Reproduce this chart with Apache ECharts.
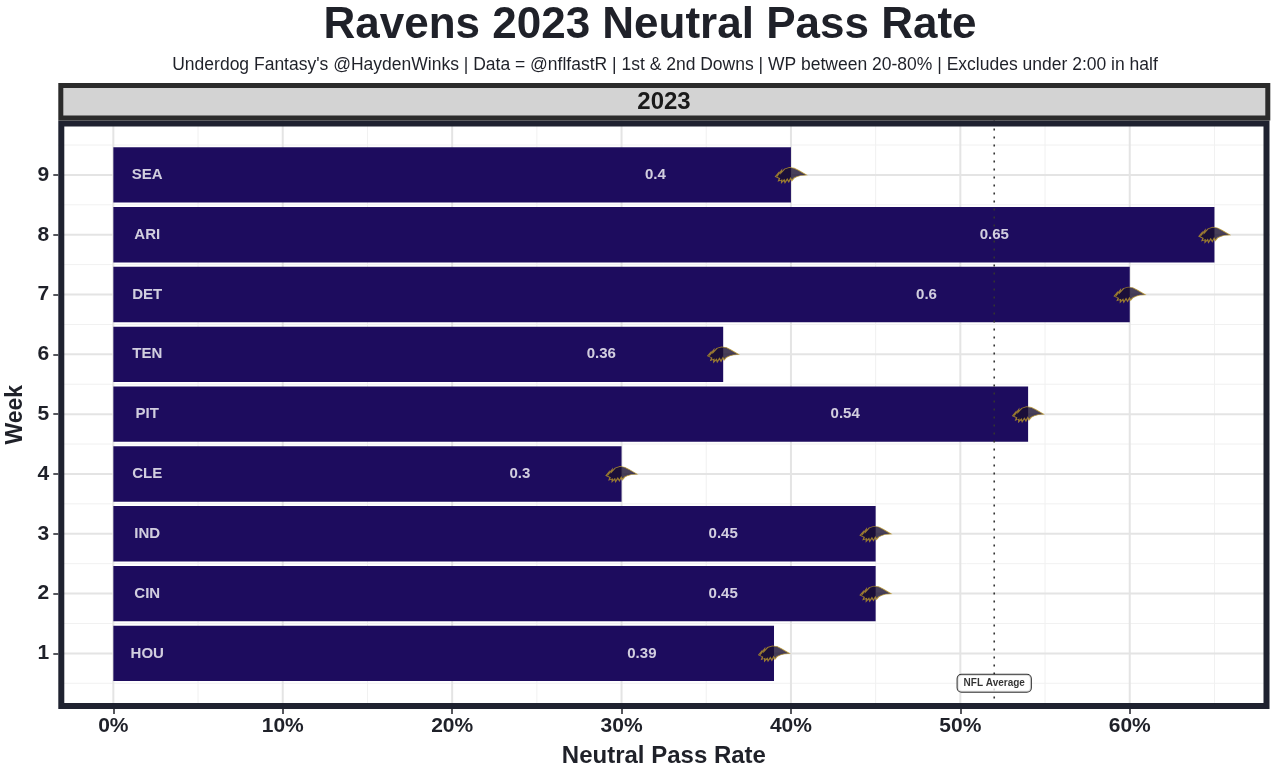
<!DOCTYPE html>
<html><head><meta charset="utf-8">
<script src="https://cdn.jsdelivr.net/npm/echarts@6/dist/echarts.min.js"></script>
<style>html,body{margin:0;padding:0;background:#fff}#c{width:1280px;height:777px}</style>
</head><body><div id="c"></div>
<script>
const weeks = [1, 2, 3, 4, 5, 6, 7, 8, 9];
const teams = ['HOU', 'CIN', 'IND', 'CLE', 'PIT', 'TEN', 'DET', 'ARI', 'SEA'];
const passRates = [0.39, 0.45, 0.45, 0.30, 0.54, 0.36, 0.60, 0.65, 0.40];
const nflAverage = 0.52;
const xTicks = [0, 0.1, 0.2, 0.3, 0.4, 0.5, 0.6];
const xMinor = [0.05, 0.15, 0.25, 0.35, 0.45, 0.55, 0.65];
const yTicks = [1, 2, 3, 4, 5, 6, 7, 8, 9];
const yMinor = [0.5, 1.5, 2.5, 3.5, 4.5, 5.5, 6.5, 7.5, 8.5, 9.5];

const FONT = '"Liberation Sans", Arial, sans-serif';
const DARK = '#1f2129';
const PURPLE = '#1d0c5e';

const chart = echarts.init(document.getElementById('c'), null, {renderer: 'canvas'});

const ravenPath = 'path://M0,30 L9,21 L8,26 L19,14 L18,20 L30,9 L45,5 L60,7 L74,13 L100,26 L82,27 L70,30 L60,34 L53,41 L49,35 L43,44 L38,37 L31,46 L28,39 L20,46 L20,39 L10,42 L13,35 Z';

// gridline items: [orientation (0 = vertical at x, 1 = horizontal at y), value, major flag]
const gridItems = [].concat(
  xMinor.map(v => [0, v, 0]), yMinor.map(v => [1, v, 0]),
  xTicks.map(v => [0, v, 1]), yTicks.map(v => [1, v, 1])
);

chart.setOption({
  animation: false,
  backgroundColor: '#ffffff',
  textStyle: {fontFamily: FONT},
  graphic: [
    {type: 'text', z: 101, silent: true,
     style: {text: 'Ravens 2023 Neutral Pass Rate', x: 650, y: 26, align: 'center', verticalAlign: 'middle',
       font: 'bold 44px ' + FONT, fill: DARK}},
    {type: 'text', z: 101, silent: true,
     style: {text: "Underdog Fantasy's @HaydenWinks | Data = @nflfastR | 1st & 2nd Downs | WP between 20-80% | Excludes under 2:00 in half",
       x: 665, y: 65, align: 'center', verticalAlign: 'middle',
       font: '17.5px ' + FONT, fill: DARK}},
    {type: 'rect', z: 100, silent: true,
     shape: {x: 61.3, y: 123.5, width: 1205.2, height: 582.5},
     style: {fill: 'none', stroke: '#1f2230', lineWidth: 6}},
    {type: 'rect', z: 100, silent: true,
     shape: {x: 60.8, y: 85.5, width: 1207, height: 32.5},
     style: {fill: '#d3d3d3', stroke: '#2b2b2b', lineWidth: 5}},
    {type: 'text', z: 101, silent: true,
     style: {text: '2023', x: 664, y: 102, align: 'center', verticalAlign: 'middle',
       font: 'bold 24px ' + FONT, fill: '#1a1a1a'}}
  ],
  grid: {left: 58.3, right: 10.5, top: 120.5, bottom: 68, outerBoundsMode: 'none', containLabel: false},
  xAxis: {
    type: 'value', min: -0.0325, max: 0.6825,
    name: 'Neutral Pass Rate', nameLocation: 'middle', nameGap: 35,
    nameTextStyle: {fontSize: 24, fontWeight: 'bold', color: DARK, fontFamily: FONT},
    axisLine: {show: false, onZero: false},
    axisTick: {show: true, length: 5, lineStyle: {color: DARK, width: 1.5}, customValues: xTicks},
    axisLabel: {customValues: xTicks, fontSize: 21, fontWeight: 'bold', color: DARK, margin: 7,
      formatter: v => Math.round(v * 100) + '%'},
    splitLine: {show: false}
  },
  yAxis: {
    type: 'value', min: 0.07, max: 9.91,
    name: 'Week', nameLocation: 'middle', nameGap: 30, nameRotate: 90,
    nameTextStyle: {fontSize: 23, fontWeight: 'bold', color: DARK, fontFamily: FONT},
    axisLine: {show: false, onZero: false},
    axisTick: {show: true, length: 5, lineStyle: {color: DARK, width: 1.5}, customValues: yTicks},
    axisLabel: {customValues: yTicks, fontSize: 21, fontWeight: 'bold', color: DARK, margin: 9},
    splitLine: {show: false}
  },
  series: [
    {
      type: 'custom', z: 1, silent: true,
      data: gridItems,
      renderItem: function (params, api) {
        const cs = params.coordSys;
        const major = api.value(2) === 1;
        const style = {stroke: major ? '#e4e4e4' : '#f1f1f1', lineWidth: major ? 2 : 1};
        if (api.value(0) === 0) {
          const x = api.coord([api.value(1), 1])[0];
          return {type: 'line', shape: {x1: x, y1: cs.y, x2: x, y2: cs.y + cs.height}, style: style};
        }
        const y = api.coord([0, api.value(1)])[1];
        return {type: 'line', shape: {x1: cs.x, y1: y, x2: cs.x + cs.width, y2: y}, style: style};
      }
    },
    {
      type: 'custom', z: 2,
      data: weeks.map((w, i) => [passRates[i], w]),
      renderItem: function (params, api) {
        const y = api.value(1);
        const p0 = api.coord([0, y]);
        const p1 = api.coord([api.value(0), y]);
        const h = api.size([0, 0.926])[1];
        return {type: 'rect', shape: {x: p0[0], y: p0[1] - h / 2, width: p1[0] - p0[0], height: h},
                style: {fill: PURPLE}};
      }
    },
    {
      type: 'custom', z: 3, silent: true,
      data: [[nflAverage]],
      renderItem: function (params, api) {
        const cs = params.coordSys;
        const x = api.coord([api.value(0), 1])[0];
        return {type: 'line', shape: {x1: x, y1: cs.y, x2: x, y2: cs.y + cs.height},
                style: {stroke: '#333', lineWidth: 1.6, lineDash: [2, 6]}};
      }
    },
    {
      type: 'scatter', z: 4, symbolSize: 0, silent: true,
      data: weeks.map((w, i) => ({value: [0.02, w], name: teams[i]})),
      label: {show: true, position: 'inside', formatter: p => p.name,
        color: '#fff', fontSize: 15, fontWeight: 'bold', fontFamily: FONT}
    },
    {
      type: 'scatter', z: 4, symbolSize: 0, silent: true,
      data: weeks.map((w, i) => ({value: [passRates[i] * 0.8, w], name: String(passRates[i])})),
      label: {show: true, position: 'inside', formatter: p => p.name,
        color: '#fff', fontSize: 15, fontWeight: 'bold', fontFamily: FONT}
    },
    {
      type: 'scatter', z: 5, silent: true,
      symbol: ravenPath, symbolSize: [31, 15],
      itemStyle: {color: '#1a1030', borderColor: '#b8952a', borderWidth: 1},
      data: weeks.map((w, i) => [passRates[i], w])
    },
    {
      type: 'scatter', z: 6, symbolSize: 0, silent: true,
      data: [{value: [nflAverage, 0.5], name: 'NFL Average'}],
      label: {show: true, position: 'inside', formatter: p => p.name,
        color: '#000', fontSize: 10, fontWeight: 'bold', fontFamily: FONT,
        backgroundColor: '#fff', borderColor: '#000', borderWidth: 1, borderRadius: 4,
        padding: [4, 6, 3, 6]}
    }
  ]
});
</script></body></html>
